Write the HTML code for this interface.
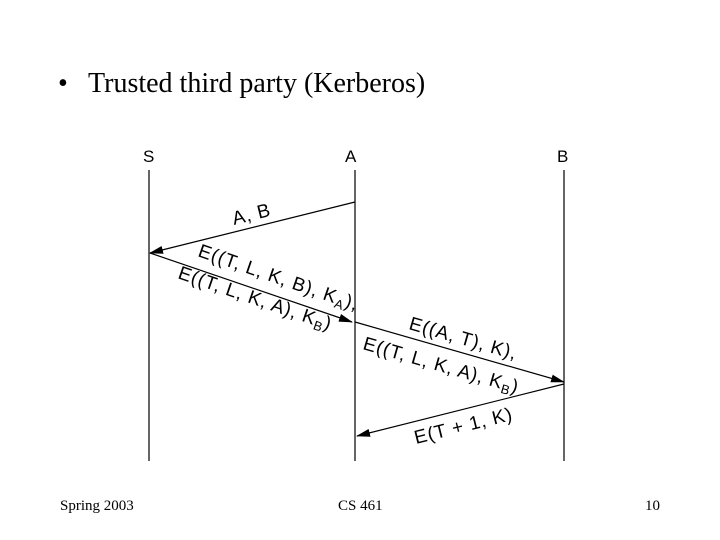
<!DOCTYPE html>
<html><head><style>
body{margin:0;background:#fff;}
svg{display:block;}
</style></head><body>
<svg width="720" height="540" xmlns="http://www.w3.org/2000/svg">
<defs>
<marker id="ah" markerWidth="14" markerHeight="8" refX="13" refY="4" orient="auto" markerUnits="userSpaceOnUse">
<path d="M0,0 L14,4 L0,8 z" fill="#000"/>
</marker>
</defs>
<text x="58" y="92" font-family="Liberation Serif, serif" font-size="28">•</text>
<text x="88" y="92" font-family="Liberation Serif, serif" font-size="28">Trusted third party (Kerberos)</text>
<g font-family="Liberation Sans, sans-serif" font-size="17">
<text x="143" y="162">S</text>
<text x="345" y="162">A</text>
<text x="557" y="162">B</text>
</g>
<g stroke="#000" stroke-width="1.2">
<line x1="149" y1="170" x2="149" y2="461"/>
<line x1="355" y1="170" x2="355" y2="461"/>
<line x1="564" y1="170" x2="564" y2="461"/>
<line x1="355" y1="202" x2="150" y2="253" marker-end="url(#ah)"/>
<line x1="150" y1="253" x2="352" y2="322" marker-end="url(#ah)"/>
<line x1="355" y1="322" x2="564" y2="382" marker-end="url(#ah)"/>
<line x1="564" y1="384" x2="357" y2="436" marker-end="url(#ah)"/>
</g>
<g font-family="Liberation Sans, sans-serif" font-size="19" letter-spacing="0.8">
<text transform="translate(234,225) rotate(-14)">A, B</text>
<text transform="translate(197,256) rotate(19)">E((T, L, K, B), K<tspan font-size="13" dy="4">A</tspan><tspan dy="-4">),</tspan></text>
<text transform="translate(177,278) rotate(19)">E((T, L, K, A), K<tspan font-size="13" dy="4">B</tspan><tspan dy="-4">)</tspan></text>
<text transform="translate(408,329) rotate(16)">E((A, T), K),</text>
<text transform="translate(362,349) rotate(16)">E((T, L, K, A), K<tspan font-size="13" dy="4">B</tspan><tspan dy="-4">)</tspan></text>
<text transform="translate(416,444) rotate(-14)">E(T + 1, K)</text>
</g>
<g font-family="Liberation Serif, serif" font-size="15">
<text x="60" y="510">Spring 2003</text>
<text x="338" y="510">CS 461</text>
<text x="645" y="510">10</text>
</g>
</svg>
</body></html>
